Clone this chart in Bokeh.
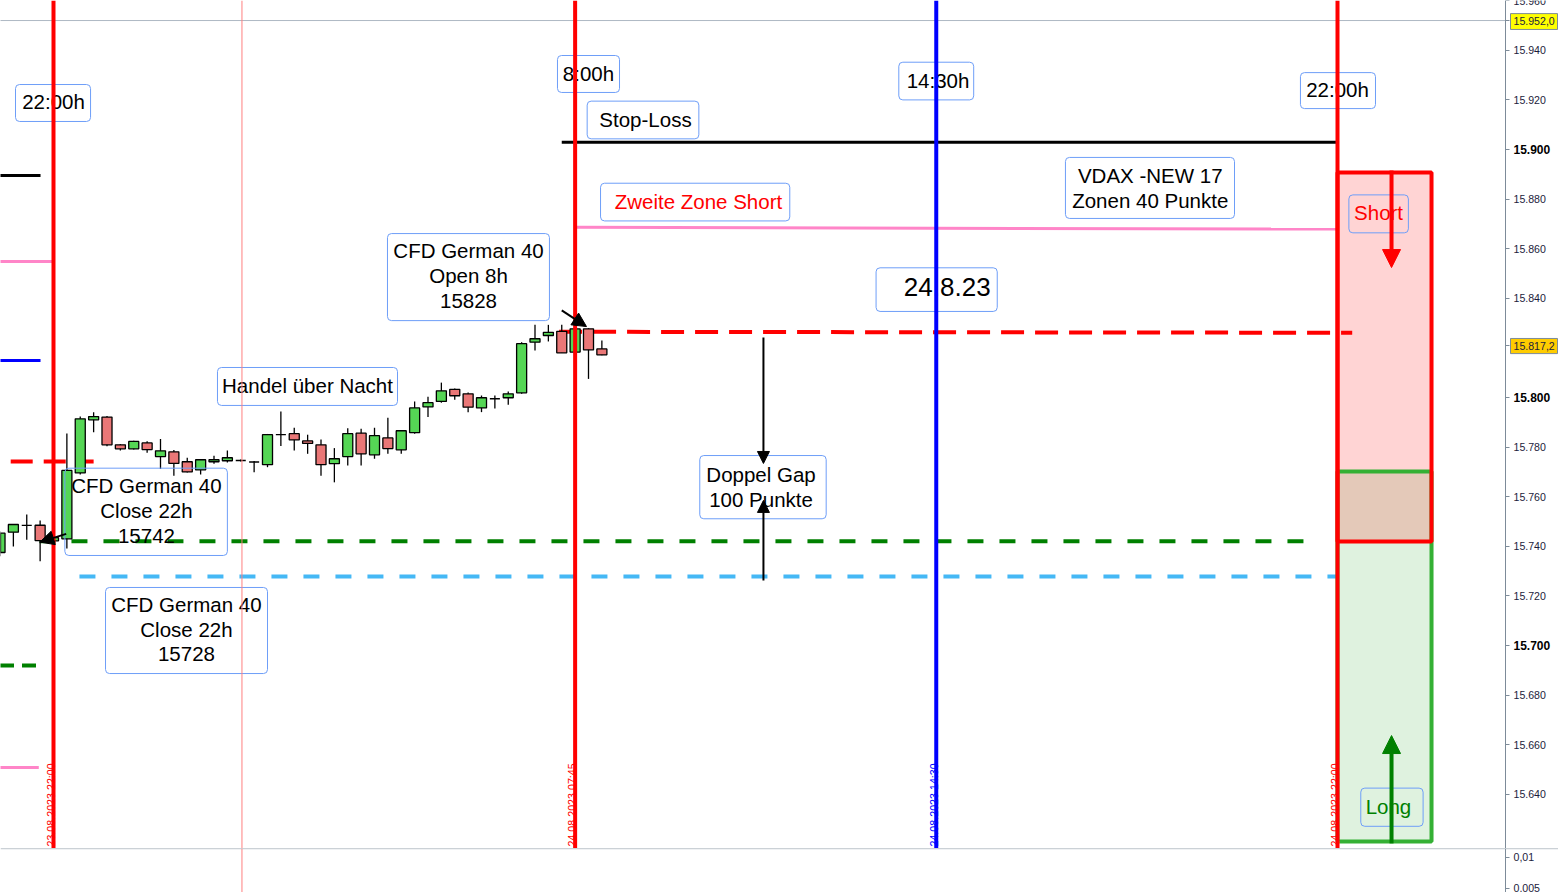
import math
from bokeh.plotting import figure
from bokeh.layouts import column
from bokeh.models import (Range1d, FixedTicker, Span, Arrow, NormalHead, LinearAxis,
                          ColumnDataSource, Quad)
from bokeh.core.properties import value
from bokeh.embed import file_html
from bokeh.resources import INLINE

FONT = "Liberation Sans"

# ---------------- candles: 15-min slots counted from 23.08.2023 22:00 ----------------
slots = list(range(-4, 42))
opens = [15737.5, 15745.7, 15748.4, 15748.5, 15742.2, 15743.0, 15769.6, 15791.0, 15792.1, 15780.9,
         15779.3, 15781.7, 15776.2, 15778.1, 15774.1, 15770.8, 15774.1, 15774.5, 15774.6, 15774.0,
         15772.9, 15785.0, 15785.4, 15782.5, 15780.9, 15773.3, 15776.2, 15785.6, 15776.9, 15783.7,
         15778.9, 15785.8, 15796.2, 15798.4, 15803.3, 15801.5, 15795.8, 15799.5, 15799.9, 15801.9,
         15822.3, 15825.0, 15826.7, 15818.3, 15827.7, 15819.6]
highs = [15746.0, 15748.8, 15752.8, 15750.4, 15743.8, 15785.5, 15792.3, 15794.1, 15792.5, 15781.3,
         15782.6, 15782.4, 15783.3, 15778.8, 15775.7, 15775.2, 15776.5, 15778.6, 15775.0, 15774.4,
         15785.3, 15794.4, 15787.8, 15785.0, 15783.1, 15779.6, 15787.6, 15787.4, 15787.8, 15791.8,
         15786.8, 15798.4, 15800.3, 15806.0, 15803.6, 15802.0, 15800.8, 15800.8, 15802.4, 15822.3,
         15829.3, 15829.3, 15829.3, 15828.5, 15828.0, 15823.0]
lows = [15736.0, 15739.9, 15742.6, 15734.0, 15741.5, 15739.1, 15769.0, 15786.0, 15780.3, 15778.6,
        15779.0, 15777.7, 15771.2, 15768.5, 15769.8, 15769.0, 15773.3, 15773.8, 15774.2, 15769.9,
        15771.9, 15780.4, 15778.6, 15777.3, 15768.5, 15765.8, 15772.6, 15772.6, 15775.3, 15777.3,
        15777.3, 15785.4, 15792.1, 15797.9, 15799.1, 15794.1, 15794.1, 15795.6, 15797.1, 15801.5,
        15819.0, 15822.6, 15818.0, 15818.0, 15807.5, 15817.0]
closes = [15745.3, 15748.8, 15748.4, 15742.3, 15743.5, 15770.6, 15791.4, 15792.3, 15780.9, 15779.3,
          15782.3, 15779.0, 15778.5, 15773.4, 15770.0, 15774.9, 15774.9, 15775.7, 15774.6, 15774.0,
          15785.0, 15785.0, 15782.9, 15781.5, 15772.9, 15775.3, 15785.4, 15777.3, 15784.6, 15779.4,
          15786.6, 15795.8, 15797.9, 15802.7, 15800.7, 15796.1, 15799.9, 15799.5, 15801.5, 15821.7,
          15823.7, 15826.3, 15818.0, 15827.7, 15819.2, 15817.2]

# ---------------- time markers (slot index) ----------------
time_slots = [0, 39, 66, 96]
time_texts = ["23.08.2023 22:00", "24.08.2023 07:45", "24.08.2023 14:30", "24.08.2023 22:00"]
time_colors = ["#ff0000", "#ff0000", "#0000ff", "#ff0000"]
thin_marker_slot = 14.09

# ---------------- horizontal levels ----------------
lvl_names = ["stop_loss", "zone2_short", "open_8h", "close_22h", "close_22h_b", "prev_red",
             "stub_black", "stub_pink", "stub_blue", "stub_green", "stub_pink2", "day_high"]
lvl_y0 = [15902.9, 15868.6, 15826.5, 15742.0, 15727.8, 15774.2,
          15889.5, 15854.8, 15814.9, 15691.9, 15650.8, 15952.0]
lvl_y1 = [15902.9, 15867.9, 15826.1, 15742.0, 15727.8, 15774.2,
          15889.5, 15854.8, 15814.9, 15691.9, 15650.8, 15952.0]
lvl_x0 = [38.0, 39.1, 37.8, -1.05, 1.94, -3.2, -4.0, -4.0, -4.0, -4.0, -4.0, -4.0]
lvl_x1 = [96.0, 96.0, 97.1, 93.5, 96.4, 3.0, -0.97, 0.0, -0.97, -1.1, -1.1, 108.56]
lvl_color = ["#000000", "#ff85c8", "#ff0000", "#008000", "#45b8f5", "#ff0000",
             "#000000", "#ff85c8", "#0000ff", "#008000", "#ff85c8", "#aeb8c4"]
lvl_width = [3, 3, 4, 4, 4, 4, 3, 3, 3, 4, 3, 1]
lvl_dash = ["solid", "solid", "23 11", "16 16", "16 16", "22 11",
            "solid", "solid", "solid", "14 8", "solid", "solid"]

# ---------------- trade zones ----------------
zone_left = 96.0
zone_right = 103.03
short_top, short_bottom = 15890.7, 15741.9
long_top, long_bottom = 15770.2, 15621.0

# ---------------- arrows ----------------
arr_x0 = [100.04, 100.04, 53.08, 53.08, 38.0, 0.95]
arr_y0 = [15891.5, 15620.2, 15824.2, 15726.2, 15835.1, 15745.0]
arr_x1 = [100.04, 100.04, 53.08, 53.08, 39.85, -1.02]
arr_y1 = [15852.4, 15663.7, 15773.4, 15758.5, 15828.6, 15741.7]
arr_color = ["#ff0000", "#008000", "#000000", "#000000", "#000000", "#000000"]
arr_width = [4, 4, 2, 2, 2, 2]
arr_size = [18, 18, 12, 12, 14, 14]

# ---------------- annotation boxes ----------------
box_text = ["22:00h", "8:00h", "14:30h", "22:00h", "Stop-Loss", "Zweite Zone Short",
            "VDAX -NEW 17\nZonen 40 Punkte", "CFD German 40\nOpen 8h\n15828", "24.8.23",
            "Handel über Nacht", "CFD German 40\nClose 22h\n15742", "CFD German 40\nClose 22h\n15728",
            "Doppel Gap\n100 Punkte", "Short", "Long"]
box_l = [-2.84, 37.68, 63.20, 93.23, 39.90, 40.90, 75.66, 24.97, 61.50, 12.26, 0.85, 3.89, 48.32, 96.85, 97.74]
box_r = [2.77, 42.32, 68.80, 98.84, 48.25, 55.05, 88.30, 37.08, 70.56, 25.72, 13.00, 16.00, 57.77, 101.30, 102.40]
box_t = [15926.2, 15937.9, 15935.2, 15931.0, 15919.5, 15886.4, 15896.8, 15866.1, 15852.3, 15812.1,
         15771.5, 15723.4, 15776.6, 15881.7, 15642.5]
box_b = [15911.3, 15923.0, 15920.0, 15916.5, 15904.3, 15871.2, 15872.2, 15831.0, 15834.7, 15796.8,
         15736.3, 15688.7, 15751.1, 15866.4, 15627.1]
box_tx = [0.0, 40.0, 66.13, 96.0, 44.26, 48.22, 82.0, 31.03, 66.82, 18.99, 6.95, 9.94, 52.9, 99.07, 99.81]
box_ty = [15919.4, 15930.6, 15927.8, 15924.2, 15912.2, 15879.2, 15884.5, 15849.2, 15844.5, 15804.8,
          15754.4, 15706.5, 15763.9, 15874.6, 15635.2]
box_tcolor = ["#000000"] * 5 + ["#ff0000"] + ["#000000"] * 7 + ["#ff0000", "#008000"]
box_fsize = ["20.5px"] * 8 + ["26px"] + ["20.5px"] * 6

# ---------------- price scale ----------------
price_ticks = [15640, 15660, 15680, 15700, 15720, 15740, 15760, 15780, 15800,
               15820, 15840, 15860, 15880, 15900, 15920, 15940, 15960]
price_tick_labels = ["15.640", "15.660", "15.680", "15.700", "15.720", "15.740", "15.760", "15.780",
                     "15.800", "15.820", "15.840", "15.860", "15.880", "15.900", "15.920", "15.940",
                     "15.960"]
bold_ticks = [15700, 15800, 15900]
hidden_ticks = [15820]
marker_values = [15952.0, 15820.8]
marker_texts = ["15.952,0", "15.817,2"]
marker_top = [15954.8, 15823.8]
marker_bottom = [15948.4, 15817.7]
marker_colors = ["#ffff00", "#ffcc00"]
sub_ticks = [0.01, 0.005]
sub_tick_labels = ["0,01", "0,005"]

# =====================================================================
PX_PER_SLOT = 13.375


def slot_at(px):
    """horizontal screen pixel -> slot index (22:00 line sits at pixel 53)"""
    return (px - 53) / PX_PER_SLOT


X_AXIS = slot_at(1505)
x_rng = Range1d(slot_at(0), slot_at(1558))
AXC = "#7d8b99"
LBLC = "#1c1c3c"


def add_scale(fig, ticks, labels, widest_px, bold_ticks=(), bold_widest_px=0):
    """price scale on the right side: axis line, outward ticks, labels"""
    line_ax = LinearAxis(fixed_location=X_AXIS, ticker=FixedTicker(ticks=ticks),
                         major_label_overrides={t: "" for t in ticks})
    line_ax.axis_line_color = AXC
    line_ax.major_tick_line_color = None
    line_ax.minor_tick_line_color = None
    line_ax.major_tick_in = 0
    line_ax.major_tick_out = 0
    line_ax.major_label_standoff = 0
    fig.add_layout(line_ax, "right")

    tick_ax = LinearAxis(fixed_location=slot_at(1509), ticker=FixedTicker(ticks=ticks),
                         major_label_overrides={t: "" for t in ticks})
    tick_ax.axis_line_color = None
    tick_ax.major_tick_line_color = AXC
    tick_ax.minor_tick_line_color = None
    tick_ax.major_tick_in = 4
    tick_ax.major_tick_out = 0
    tick_ax.major_label_standoff = 0
    fig.add_layout(tick_ax, "right")

    groups = [([t for t in ticks if t not in bold_ticks], "normal", widest_px, "10.6px")]
    if bold_ticks:
        groups.append((list(bold_ticks), "bold", bold_widest_px, "12px"))
    for tks, style, wpx, fsize in groups:
        lab = {t: s for t, s in zip(ticks, labels) if t in tks}
        la = LinearAxis(fixed_location=slot_at(1513 + wpx), ticker=FixedTicker(ticks=tks),
                        major_label_overrides=lab)
        la.axis_line_color = None
        la.major_tick_line_color = None
        la.minor_tick_line_color = None
        la.major_tick_in = 0
        la.major_tick_out = 0
        la.major_label_standoff = -wpx
        la.major_label_text_font = FONT
        la.major_label_text_font_size = fsize
        la.major_label_text_font_style = style
        la.major_label_text_color = "#000000" if style == "bold" else LBLC
        fig.add_layout(la, "right")


p = figure(frame_width=1558, frame_height=848, x_range=x_rng,
           y_range=Range1d(15618.15, 15960.08), output_backend="svg",
           toolbar_location=None, x_axis_location=None, y_axis_location=None,
           title=None, min_border=0)
p.xgrid.visible = False
p.ygrid.visible = False
p.outline_line_color = None
p.background_fill_color = "white"
p.border_fill_color = "white"

# price-marker boxes on the scale
p.quad(left=[slot_at(1510)] * 2, right=[slot_at(1557)] * 2, top=marker_top, bottom=marker_bottom,
       fill_color=marker_colors, line_color=AXC, line_width=1)

all_ticks = [t for t in price_ticks if t not in hidden_ticks] + marker_values
all_labels = [s for t, s in zip(price_ticks, price_tick_labels) if t not in hidden_ticks] + marker_texts
add_scale(p, all_ticks, all_labels, 42, bold_ticks=bold_ticks, bold_widest_px=37)

# vertical time markers
for s, c in zip(time_slots, time_colors):
    p.add_layout(Span(location=s, dimension="height", line_color=c, line_width=4))
p.add_layout(Span(location=thin_marker_slot, dimension="height", line_color="#ff7f7f", line_width=1))

# horizontal levels
for i in range(len(lvl_names)):
    p.line([lvl_x0[i], lvl_x1[i]], [lvl_y0[i], lvl_y1[i]], line_color=lvl_color[i],
           line_width=lvl_width[i], line_dash=lvl_dash[i])

# zones
p.quad(left=[zone_left], right=[zone_right], top=[long_top], bottom=[long_bottom],
       fill_color="#dff2df", line_color=None)
p.quad(left=[zone_left], right=[zone_right], top=[short_top], bottom=[short_bottom],
       fill_color="#ff0000", fill_alpha=0.17, line_color=None)
p.quad(left=[zone_left], right=[zone_right], top=[long_top], bottom=[long_bottom],
       fill_color=None, line_color="#34b034", line_width=4)
p.quad(left=[zone_left], right=[zone_right], top=[short_top], bottom=[short_bottom],
       fill_color=None, line_color="#ff0000", line_width=4)

# candles
tops = [max(o, c) for o, c in zip(opens, closes)]
bots = [min(o, c) for o, c in zip(opens, closes)]
cols = ["#55d655" if c >= o else "#ea7777" for o, c in zip(opens, closes)]
src = ColumnDataSource(dict(x=slots, h=highs, l=lows, top=tops, bottom=bots, color=cols))
p.segment(x0="x", y0="h", x1="x", y1="l", source=src, line_color="black", line_width=1.3)
p.vbar(x="x", width=0.75, top="top", bottom="bottom", fill_color="color", line_color="black",
       line_width=1.3, source=src)

# arrows
for i in range(len(arr_x0)):
    p.add_layout(Arrow(end=NormalHead(size=arr_size[i], fill_color=arr_color[i], line_color=arr_color[i]),
                       x_start=arr_x0[i], y_start=arr_y0[i], x_end=arr_x1[i], y_end=arr_y1[i],
                       line_color=arr_color[i], line_width=arr_width[i]))

# annotation boxes
qkw = {}
if "border_radius" in Quad.properties():
    qkw["border_radius"] = 4
p.quad(left=box_l, right=box_r, top=box_t, bottom=box_b, fill_color=None,
       line_color="#6e9ef8", line_width=1, **qkw)
bsrc = ColumnDataSource(dict(x=box_tx, y=box_ty, text=box_text, color=box_tcolor, size=box_fsize))
p.text(x="x", y="y", text="text", text_color="color", text_font_size="size", source=bsrc,
       text_font=value(FONT), text_align="center", text_baseline="middle", text_line_height=1.07)

# rotated date labels
tsrc = ColumnDataSource(dict(x=[s - 0.2 for s in time_slots], y=[15618.95] * 4,
                             text=time_texts, color=time_colors))
p.text(x="x", y="y", text="text", text_color="color", source=tsrc, angle=math.pi / 2,
       text_font=value(FONT), text_font_size=value("10.7px"), text_align="left",
       text_baseline="alphabetic")

# ---------------- lower indicator pane ----------------
p2 = figure(frame_width=1558, frame_height=44, x_range=x_rng, y_range=Range1d(0.0043548, 0.0114516),
            output_backend="svg", toolbar_location=None, x_axis_location=None,
            y_axis_location=None, title=None, min_border=0)
p2.xgrid.visible = False
p2.ygrid.visible = False
p2.outline_line_color = None
p2.background_fill_color = "white"
p2.border_fill_color = "white"
add_scale(p2, sub_ticks, sub_tick_labels, 27)
p2.add_layout(Span(location=0.01143, dimension="width", line_color="#8a96a3", line_width=1))
p2.add_layout(Span(location=thin_marker_slot, dimension="height", line_color="#ff7f7f", line_width=1))

layout = column(p, p2)
open("out.html", "w").write(file_html(layout, INLINE))
